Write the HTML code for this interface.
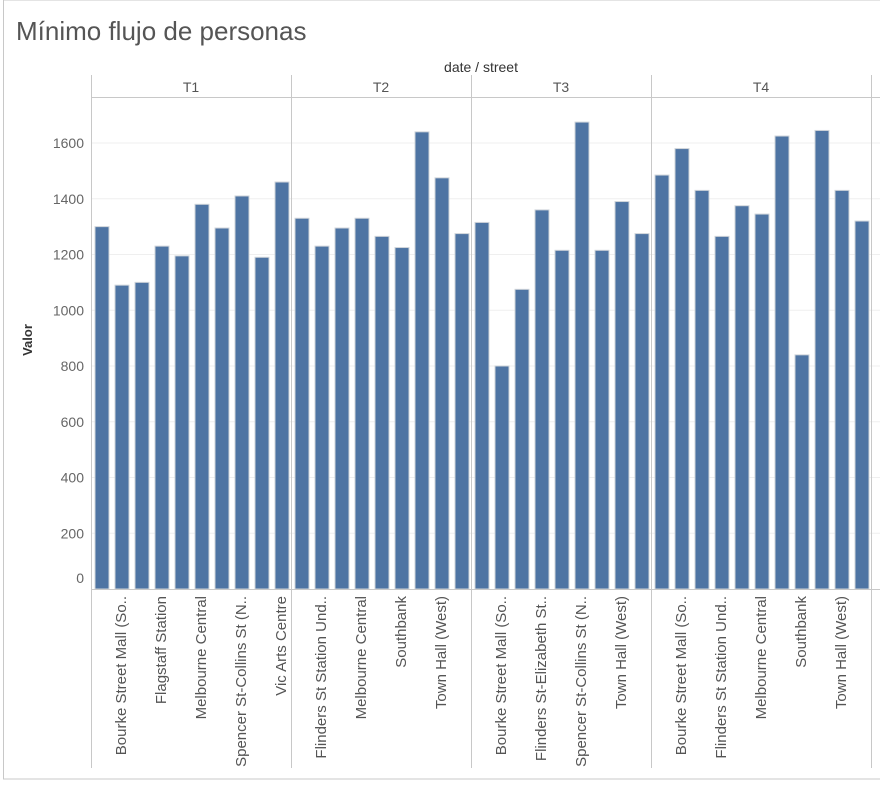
<!DOCTYPE html>
<html><head><meta charset="utf-8"><style>
body{margin:0;background:#fff;font-family:"Liberation Sans",sans-serif;}
svg text{font-family:"Liberation Sans",sans-serif;}
</style></head><body>
<svg id="c" width="880" height="785">
<rect x="3.5" y="0" width="880" height="779" fill="#fff" stroke="#c8c8c8"/>
<text x="16" y="40" font-size="26" fill="#555">Mínimo flujo de personas</text>
<text x="481" y="72" font-size="14" fill="#333" text-anchor="middle">date / street</text>
<text x="32" y="340" font-size="13" fill="#333" font-weight="bold" text-anchor="middle" transform="rotate(-90 32 340)">Valor</text>
<g id="g"></g>
</svg>
<script>
const quarters=["T1","T2","T3","T4"];
const t1Values=[1300,1090,1100,1230,1195,1380,1295,1410,1190,1460];
const t2Values=[1330,1230,1295,1330,1265,1225,1640,1475,1275];
const t3Values=[1315,800,1075,1360,1215,1675,1215,1390,1275];
const t4Values=[1485,1580,1430,1265,1375,1345,1625,840,1645,1430,1320];
const t1Streets=["Bourke Street Mall (North)","Bourke Street Mall (South)","Collins Place (South)","Flagstaff Station","Flinders St Station Underpass","Melbourne Central","Southbank","Spencer St-Collins St (North)","Town Hall (West)","Vic Arts Centre"];
const t2Streets=["Bourke Street Mall (North)","Flinders St Station Underpass","Flinders St-Elizabeth St (East)","Melbourne Central","Princes Bridge","Southbank","Spencer St-Collins St (North)","Town Hall (West)","Vic Arts Centre"];
const t3Streets=["Bourke Street Mall (North)","Bourke Street Mall (South)","Flinders St Station Underpass","Flinders St-Elizabeth St (East)","Southbank","Spencer St-Collins St (North)","State Library","Town Hall (West)","Vic Arts Centre"];
const t4Streets=["Bourke Street Mall (North)","Bourke Street Mall (South)","Collins Place (South)","Flinders St Station Underpass","Flinders St-Elizabeth St (East)","Melbourne Central","Princes Bridge","Southbank","Spencer St-Collins St (North)","Town Hall (West)","Vic Arts Centre"];
const yTicks=[0,200,400,600,800,1000,1200,1400,1600];
const allValues=[t1Values,t2Values,t3Values,t4Values];
const allStreets=[t1Streets,t2Streets,t3Streets,t4Streets];
const NS="http://www.w3.org/2000/svg";
const g=document.getElementById("g");
const x0=91,bw=20,yZero=589,yTop=143,y1600=1600;
const y=v=>yZero-(v/y1600)*(yZero-yTop);
function mk(t,a){const e=document.createElementNS(NS,t);for(const k in a)e.setAttribute(k,a[k]);g.appendChild(e);return e;}
function trunc(s){
  const m={"Bourke Street Mall (South)":"Bourke Street Mall (So..","Spencer St-Collins St (North)":"Spencer St-Collins St (N..","Flinders St Station Underpass":"Flinders St Station Und..","Flinders St-Elizabeth St (East)":"Flinders St-Elizabeth St.."};
  return m[s]||s;
}
yTicks.forEach(v=>{
  if(v>0){const l=mk("line",{x1:x0,x2:880,y1:y(v),y2:y(v),stroke:"#efefef"});
  
  }
  const t=mk("text",{x:84,y:v===0?y(v)-6:y(v)+5,"font-size":14,fill:"#666","text-anchor":"end"});
  t.textContent=v;
  
  
});
const hl=mk("line",{x1:x0,x2:880,y1:97.5,y2:97.5,stroke:"#c8c8c8"});


let xs=x0;
allValues.forEach((vals,qi)=>{
  const w=vals.length*bw;
  const dl=mk("line",{x1:xs+0.5,x2:xs+0.5,y1:75,y2:768,stroke:"#c8c8c8"});
  
  
  const ht=mk("text",{x:xs+w/2,y:92,"font-size":14,fill:"#555","text-anchor":"middle"});
  ht.textContent=quarters[qi];
  
  
  vals.forEach((v,i)=>{
    const bx=xs+i*bw+4;
    const r=mk("rect",{x:bx,y:y(v),width:14,height:yZero-y(v),fill:"#4e74a3",stroke:"#cfd4da","stroke-width":1});
    
    
    if(i%2===1){
      const s=trunc(allStreets[qi][i]);
      const cx=xs+i*bw+10+5,cy=596;
      const t=mk("text",{x:cx,y:cy,"font-size":15,fill:"#555","text-anchor":"end",transform:`rotate(-90 ${cx} ${cy})`});
      t.textContent=s;
      
      
    }
  });
  xs+=w;
});
const dl2=mk("line",{x1:xs+0.5,x2:xs+0.5,y1:75,y2:768,stroke:"#c8c8c8"});


const zl=mk("line",{x1:x0,x2:880,y1:yZero+0.5,y2:yZero+0.5,stroke:"#c8c8c8"});


</script>
</body></html>
